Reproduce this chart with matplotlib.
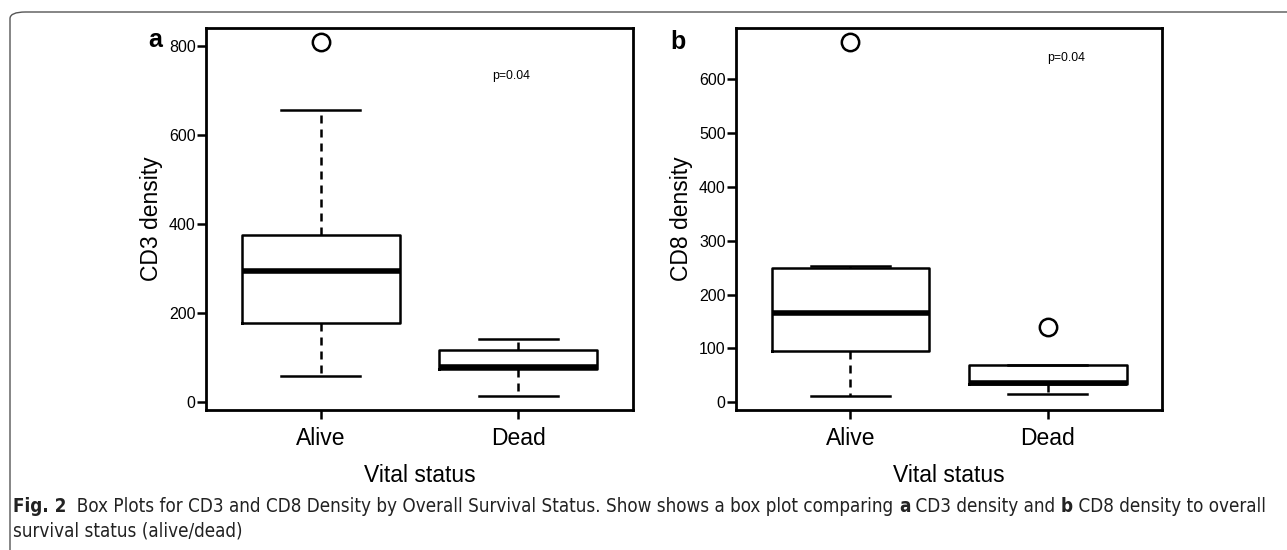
import matplotlib
matplotlib.use("Agg")
import matplotlib.pyplot as plt
from matplotlib.patches import FancyBboxPatch

plt.rcParams['font.family'] = ['Liberation Sans', 'DejaVu Sans']

groups = ["Alive", "Dead"]

# a: CD3 density, box stats
cd3_q1 = [178, 75]
cd3_med = [295, 78]
cd3_q3 = [375, 117]
cd3_lo = [58, 14]
cd3_hi = [656, 142]
cd3_out = [[809], []]
cd3_ticks = [0, 200, 400, 600, 800]

# b: CD8 density
cd8_q1 = [95, 34]
cd8_med = [165, 36]
cd8_q3 = [250, 70]
cd8_lo = [12, 15]
cd8_hi = [254, 70]
cd8_out = [[669], [140]]
cd8_ticks = [0, 100, 200, 300, 400, 500, 600]

p_text = "p=0.04"
W, H = 1287, 550


def make_stats(q1, med, q3, lo, hi, out):
    stats = []
    for i in range(len(groups)):
        stats.append(dict(q1=q1[i], med=med[i], q3=q3[i], whislo=lo[i],
                          whishi=hi[i], fliers=out[i], label=groups[i]))
    return stats


def draw_panel(ax, stats, ticks, ylabel, letter, letter_xy, p_xy):
    ax.bxp(stats, positions=[1, 2], widths=0.8, capwidths=0.4,
           boxprops=dict(lw=1.8, color='black'),
           medianprops=dict(lw=4, color='black', solid_capstyle='butt'),
           whiskerprops=dict(lw=1.8, color='black', ls=(0, (3.2, 2.4))),
           capprops=dict(lw=1.8, color='black'),
           flierprops=dict(marker='o', mfc='none', mec='black', ms=12.5, mew=1.8))
    vals = [s['whislo'] for s in stats] + [s['whishi'] for s in stats]
    vals += [f for s in stats for f in s['fliers']]
    lo, hi = min(vals), max(vals)
    pad = 0.04 * (hi - lo)
    ax.set_ylim(lo - pad, hi + pad)
    ax.set_xlim(0.42, 2.58)
    ax.set_yticks(ticks)
    ax.set_xticks([1, 2])
    ax.set_xticklabels(groups)
    for s in ax.spines.values():
        s.set_linewidth(2)
    ax.tick_params(axis='y', direction='out', length=6.5, width=1.8,
                   labelsize=11.5, pad=1)
    ax.tick_params(axis='x', direction='out', length=6.5, width=1.8,
                   labelsize=16.5, pad=6)
    ax.set_ylabel(ylabel, fontsize=16.5, va='center')
    ax.yaxis.set_label_coords(-0.128, 0.5)
    ax.set_xlabel("Vital status", fontsize=16.5)
    ax.xaxis.set_label_coords(0.5, -0.172)
    ax.xaxis.label.set_va('center')
    ax.figure.text(letter_xy[0] / W, 1 - letter_xy[1] / H, letter,
                   fontsize=18, fontweight='bold', ha='center', va='center')
    ax.figure.text(p_xy[0] / W, 1 - p_xy[1] / H, p_text,
                   fontsize=8.8, ha='center', va='center')


fig = plt.figure(figsize=(W / 100, H / 100), dpi=100)

# frame with rounded top-left corner
frame = FancyBboxPatch((10 / W, -0.2), 1.2, 1.2 - 12 / H,
                       boxstyle="round,pad=0,rounding_size=0.012",
                       transform=fig.transFigure, fill=False,
                       ec='#555555', lw=1.0, clip_on=False)
fig.patches.append(frame)

ax1 = fig.add_axes([206 / W, 1 - 410 / H, 427 / W, 382 / H])
ax2 = fig.add_axes([736 / W, 1 - 410 / H, 426 / W, 382 / H])

draw_panel(ax1, make_stats(cd3_q1, cd3_med, cd3_q3, cd3_lo, cd3_hi, cd3_out),
           cd3_ticks, "CD3 density", "a", (155, 40), (511, 76))
draw_panel(ax2, make_stats(cd8_q1, cd8_med, cd8_q3, cd8_lo, cd8_hi, cd8_out),
           cd8_ticks, "CD8 density", "b", (678, 42), (1066, 58))

# caption, pieces laid out one after another
cap_font = ['DejaVu Sans']
line1 = [("Fig. 2", 'bold'), ("  Box Plots for CD3 and CD8 Density by Overall Survival Status. "
         "Show shows a box plot comparing ", 'normal'), ("a", 'bold'),
         (" CD3 density and ", 'normal'), ("b", 'bold'),
         (" CD8 density to overall", 'normal')]
line2 = [("survival status (alive/dead)", 'normal')]

renderer = fig.canvas.get_renderer()


def lay_line(parts, ypix, size):
    x = 13 / W
    made = []
    for txt, wt in parts:
        t = fig.text(x, 1 - ypix / H, txt, fontsize=size, fontweight=wt,
                     family=cap_font, stretch='condensed', ha='left',
                     va='center', color='#222222')
        x += t.get_window_extent(renderer).width / W
        made.append(t)
    return made, x * W - 13


# fit first line to the width it has in the reference
size = 10.5
made, width = lay_line(line1, 506, size)
for t in made:
    t.remove()
size = size * 1262 / width
lay_line(line1, 506, size)
lay_line(line2, 531, size)

fig.savefig("out.png", dpi=100)
